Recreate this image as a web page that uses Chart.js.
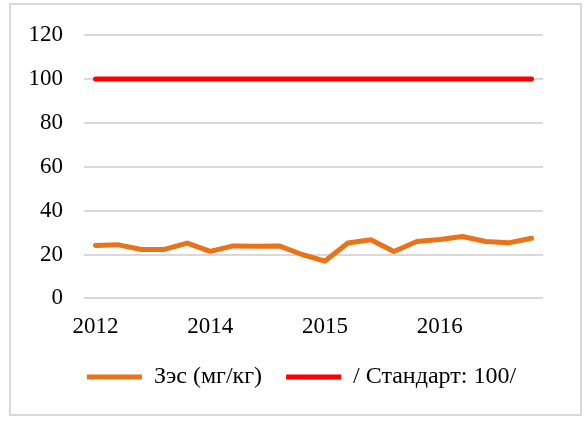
<!DOCTYPE html>
<html>
<head>
<meta charset="utf-8">
<script src="https://cdn.jsdelivr.net/npm/chart.js@4"></script>
<style>
  html, body { margin: 0; padding: 0; background: #fff; }
  #wrap { position: relative; width: 584px; height: 427px; }
  #frame {
    position: absolute; left: 9px; top: 3px; width: 569px; height: 409px;
    border: 2px solid #d9d9d9; pointer-events: none;
  }
  canvas { position: absolute; left: 0; top: 0; }
</style>
</head>
<body>
<div id="wrap">
  <canvas id="chart" width="584" height="427"></canvas>
  <div id="frame"></div>
</div>
<script>
// categories (quarters), only some carry a year label
const labels = ["2012", "", "", "", "", "2014", "", "", "", "", "2015", "", "", "", "", "2016", "", "", "", ""];

// copper content, mg/kg
const copperValues = [24.1, 24.4, 22.3, 22.3, 25.2, 21.4, 23.9, 23.8, 23.9, 20.0, 17.0, 25.2, 26.7, 21.4, 25.9, 26.8, 28.2, 25.9, 25.3, 27.4];

// standard level
const standardValues = [100, 100, 100, 100, 100, 100, 100, 100, 100, 100, 100, 100, 100, 100, 100, 100, 100, 100, 100, 100];

const yTicks = [0, 20, 40, 60, 80, 100, 120];

const family = "'Times New Roman', 'Liberation Serif', serif";
const tickFont = { family, size: 23 };
const legendFont = { family, size: 24 };

new Chart(document.getElementById("chart"), {
  type: "line",
  data: {
    labels,
    datasets: [
      {
        label: "Зэс (мг/кг)",
        data: copperValues,
        borderColor: "#E97316",
        backgroundColor: "#E97316",
        borderWidth: 5,
        borderCapStyle: "round",
        borderJoinStyle: "round",
        pointRadius: 0,
        tension: 0
      },
      {
        label: "/ Стандарт: 100/",
        data: standardValues,
        borderColor: "#FF0000",
        backgroundColor: "#FF0000",
        borderWidth: 5,
        borderCapStyle: "round",
        pointRadius: 0,
        tension: 0
      }
    ]
  },
  options: {
    responsive: false,
    animation: false,
    layout: { padding: { left: 19, right: 0, top: 35, bottom: 28 } },
    plugins: {
      tooltip: { enabled: false },
      legend: {
        position: "bottom",
        labels: {
          color: "#000",
          font: legendFont,
          usePointStyle: true,
          pointStyle: "line",
          pointStyleWidth: 55,
          padding: 24
        }
      }
    },
    scales: {
      x: {
        offset: true,
        grid: { display: false },
        border: { display: false },
        ticks: {
          color: "#000",
          font: tickFont,
          autoSkip: false,
          maxRotation: 0,
          padding: 7
        },
        afterFit: s => { s.height -= 7; }
      },
      y: {
        min: 0,
        max: 120,
        afterBuildTicks: axis => { axis.ticks = yTicks.map(v => ({ value: v })); },
        grid: { color: "#d9d9d9", lineWidth: 2, drawTicks: false },
        border: { display: false },
        ticks: { color: "#000", font: tickFont, padding: 21 },
        afterFit: s => { s.width = 65; }
      },
      // empty right margin inside the frame
      yRight: {
        position: "right",
        grid: { display: false },
        border: { display: false },
        ticks: { display: false },
        afterFit: s => { s.width = 41; }
      }
    }
  }
});
</script>
</body>
</html>
